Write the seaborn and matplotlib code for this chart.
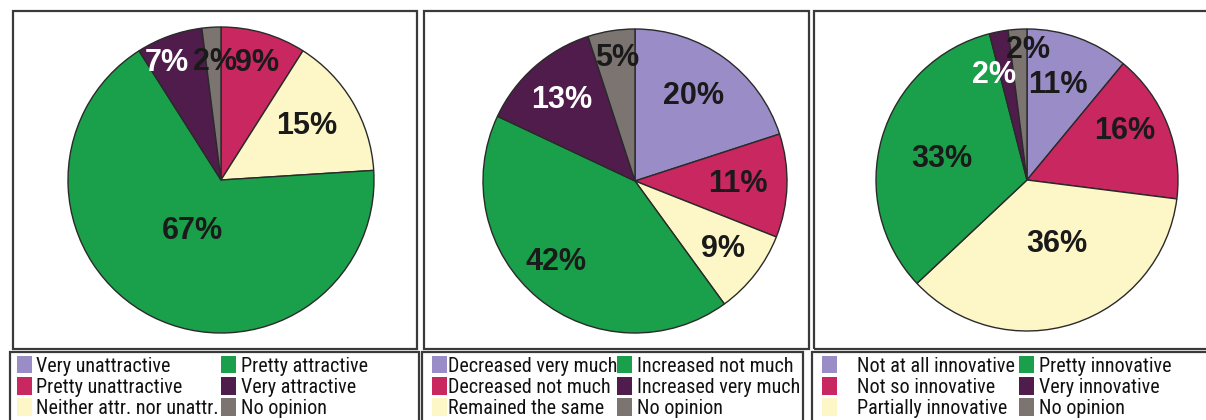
import numpy as np
import seaborn as sns
import matplotlib.pyplot as plt
from matplotlib.patches import Rectangle, Patch
from matplotlib import font_manager

sns.set_theme(style="white")

# data (percent shares, clockwise from 12 o'clock)
labels1 = ["Very unattractive", "Pretty unattractive", "Neither attr. nor unattr.",
           "Pretty attractive", "Very attractive", "No opinion"]
values1 = [0, 9, 15, 67, 7, 2]
labels2 = ["Decreased very much", "Decreased not much", "Remained the same",
           "Increased not much", "Increased very much", "No opinion"]
values2 = [20, 11, 9, 42, 13, 5]
labels3 = ["Not at all innovative", "Not so innovative", "Partially innovative",
           "Pretty innovative", "Very innovative", "No opinion"]
values3 = [11, 16, 36, 33, 2, 2]

colors = sns.color_palette(["#9a8cc6", "#c8275f", "#fdf7c7", "#1aa04a", "#4f1c4c", "#7b7471"])

W, H = 1206, 420
names = set(f.name for f in font_manager.fontManager.ttflist)
narrow = "Liberation Sans"
for cand in ["Liberation Sans Narrow", "Arial Narrow", "Roboto Condensed", "PT Sans Narrow",
             "Archivo Narrow", "Asap Condensed"]:
    if cand in names:
        narrow = cand
        break
plt.rcParams['font.family'] = ['Liberation Sans', 'DejaVu Sans']

fig = plt.figure(figsize=(W / 100, H / 100), dpi=100)
fig.patch.set_facecolor("white")


def px_box(x0, y0, x1, y1, lw=1.6):
    fig.patches.append(Rectangle((x0 / W, 1 - y1 / H), (x1 - x0) / W, (y1 - y0) / H,
                                 transform=fig.transFigure, fill=False,
                                 edgecolor="#3a3a3a", lw=lw, zorder=0))


# frames: pie boxes and legend boxes
px_box(13, 11, 417, 349)
px_box(10, 352, 419, 430)
px_box(424, 11, 809, 349)
px_box(422, 352, 803, 430)
px_box(814, 11, 1215, 349)
px_box(812, 352, 1215, 430)

# label placement per slice: (radius fraction, clockwise angle nudge in degrees)
panels = [
    (values1, labels1, (221, 180), 153,
     [(0, 0), (0.80, 1), (0.66, -1.5), (0.38, 2), (0.84, -5), (0.77, 0.7)],
     ["k", "k", "k", "k", "white", "k"]),
    (values2, labels2, (635, 181), 152,
     [(0.68, -1.4), (0.68, 0), (0.73, 0), (0.74, 4.7), (0.72, -1), (0.82, 0.6)],
     ["k", "k", "k", "k", "white", "k"]),
    (values3, labels3, (1027, 180), 151,
     [(0.66, -1.5), (0.72, -5), (0.47, -7), (0.58, -2.3), (0.73, -6.6), (0.86, 4)],
     ["k", "k", "k", "k", "white", "k"]),
]

# legend columns: (marker left x, text pad) for column 1 and column 2
legend_cols = [
    [(17, 0.2), (221, 0.25)],
    [(432, 0.05), (617, 0.25)],
    [(822, 1.0), (1019, 0.25)],
]

for i, (vals, labs, (cx, cy), r, lpos, tcols) in enumerate(panels):
    ax = fig.add_axes([(cx - r) / W, 1 - (cy + r) / H, 2 * r / W, 2 * r / H])
    wedges, _ = ax.pie(vals, colors=colors, startangle=90, counterclock=False,
                       wedgeprops=dict(edgecolor="#2a2a2a", linewidth=1.0))
    ax.set_xlim(-1.0, 1.0)
    ax.set_ylim(-1.0, 1.0)
    ax.set_aspect("equal")
    ax.axis("off")
    for w, v, (d, nudge), tc in zip(wedges, vals, lpos, tcols):
        if v == 0:
            continue
        ang = np.deg2rad((w.theta1 + w.theta2) / 2 - nudge)
        ax.text(d * np.cos(ang), d * np.sin(ang), f"{v}%", ha="center", va="center",
                fontsize=22, fontweight="bold", color=tc)
    handles = [Patch(facecolor=c, edgecolor="none") for c in colors]
    for k, (lx, pad) in enumerate(legend_cols[i]):
        leg = fig.legend(handles[3 * k:3 * k + 3], labs[3 * k:3 * k + 3], loc="upper left",
                         ncol=1, frameon=False, bbox_to_anchor=(lx / W, 1 - 356 / H),
                         prop=dict(family=narrow, size=14.5), handlelength=0.75,
                         handleheight=0.95, handletextpad=pad, labelspacing=0.08,
                         borderpad=0.0, borderaxespad=0.0)
        for t in leg.get_texts():
            t.set_color("#111111")

fig.savefig("out.png", dpi=100)
